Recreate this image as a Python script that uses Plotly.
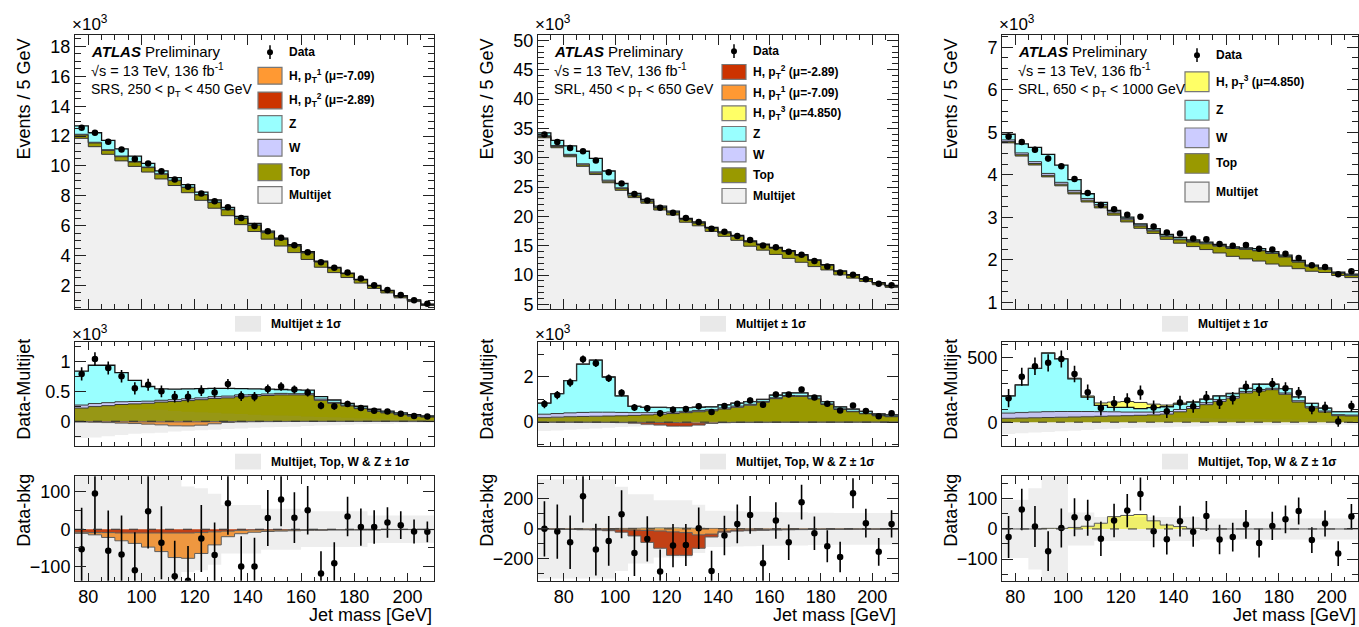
import plotly.graph_objects as go

# ======================= DATA =======================
# ---- Panel 1: SRS, 250 < pT < 450 GeV ----
srs_edges = [75, 80, 85, 90, 95, 100, 105, 110, 115, 120, 125, 130, 135, 140, 145,
             150, 155, 160, 165, 170, 175, 180, 185, 190, 195, 200, 205, 210]
srs_data_k = [12.56, 12.23, 11.62, 11.11, 10.47, 10.17, 9.64, 9.09, 8.60, 8.16, 7.63, 7.24, 6.51, 5.98,
              5.63, 5.19, 4.69, 4.22, 3.56, 3.19, 2.86, 2.46, 2.02, 1.69, 1.36, 1.01, 0.77]
srs_mj_k = [11.85, 11.29, 10.78, 10.34, 9.97, 9.59, 9.13, 8.69, 8.21, 7.70, 7.17, 6.67, 6.07, 5.61,
            5.10, 4.64, 4.20, 3.74, 3.22, 2.86, 2.53, 2.16, 1.80, 1.50, 1.17, 0.92, 0.66]
srs_top = [220, 245, 260, 280, 290, 300, 320, 330, 345, 360, 380, 390, 410, 420,
           430, 440, 440, 440, 350, 300, 255, 210, 165, 140, 110, 85, 70]
srs_w = [50, 50, 50, 45, 40, 35, 30, 30, 30, 30, 30, 30, 30, 25,
         25, 25, 20, 20, 20, 15, 15, 10, 10, 10, 10, 8, 6]
srs_z = [566, 639, 624, 485, 353, 245, 190, 175, 165, 155, 140, 130, 105, 95,
         80, 65, 65, 60, 40, 40, 30, 30, 25, 20, 20, 17, 14]
srs_h1 = [-3, -6, -13, -21, -28, -38, -50, -66, -68, -56, -35, -15, -9, -6,
          -4, -3, -3, -2, -2, -1, -1, -1, -1, -0.5, -0.5, -0.5, -0.5]
srs_h2 = [-8, -9, -9, -10, -10, -10, -10, -10, -10, -9, -7, -5, -3, -2,
          -2, -2, -1, -1, -1, -1, -1, -1, -1, -0.5, -0.5, -0.5, -0.5]
srs_dmm = [790, 1040, 890, 750, 550, 610, 500, 410, 410, 510, 480, 620, 420, 410,
           540, 580, 530, 480, 260, 250, 290, 220, 175, 164, 126, 87, 80]
srs_err = [112, 110, 108, 105, 102, 100, 98, 95, 93, 90, 87, 85, 81, 77,
           75, 72, 68, 65, 60, 56, 53, 50, 45, 41, 37, 32, 28]
srs_dmb = [-54, 96, -58, -68, -110, 48, -36, -126, -138, -25, -69, 70, -100, -100,
           30, 80, 31, 51, -119, -91, 34, 6, 6, 18, 11, -6, -7]
srs_mj_unc = [280, 270, 250, 230, 210, 200, 190, 170, 160, 150, 140, 130, 120, 110,
              100, 95, 90, 80, 70, 65, 60, 50, 45, 40, 35, 30, 30]
srs_tot_unc = [150, 150, 150, 150, 150, 150, 150, 150, 115, 110, 95, 65, 65, 65,
               55, 55, 55, 48, 48, 48, 48, 48, 37, 37, 37, 37, 37]

# ---- Panel 2: SRL, 450 < pT < 650 GeV ----
srl_edges = [70, 75, 80, 85, 90, 95, 100, 105, 110, 115, 120, 125, 130, 135, 140, 145,
             150, 155, 160, 165, 170, 175, 180, 185, 190, 195, 200, 205, 210]
srl_data_k = [33.97, 32.68, 31.67, 31.11, 29.54, 27.52, 25.62, 23.82, 22.70, 21.47, 20.63, 19.73, 19.06, 17.88,
              17.38, 16.65, 15.98, 15.02, 14.74, 13.96, 13.45, 12.39, 11.44, 10.43, 10.03, 9.30, 8.52, 8.24]
srl_mj_k = [33.4, 31.7, 30.16, 28.53, 27.13, 25.73, 24.44, 23.2, 22.25, 21.08, 20.24, 19.0, 18.39, 17.43,
            16.59, 15.92, 14.91, 14.24, 13.51, 12.84, 12.17, 11.44, 10.87, 10.03, 9.47, 8.91, 8.35, 7.9]
srl_top = [200, 220, 240, 250, 260, 270, 280, 300, 320, 350, 380, 420, 460, 500,
           580, 660, 750, 880, 1040, 1140, 1140, 1030, 780, 560, 460, 370, 280, 240]
srl_w = [150, 160, 170, 180, 180, 170, 150, 120, 100, 80, 70, 60, 60, 50,
         50, 50, 40, 40, 40, 40, 30, 30, 30, 30, 20, 20, 20, 20]
srl_z = [490, 880, 1430, 2140, 2310, 1560, 730, 280, 230, 220, 190, 160, 140, 130,
         140, 130, 120, 90, 120, 120, 130, 100, 100, 90, 100, 90, 60, 60]
srl_h1 = [-1, -1, -2, -2, -3, -4, -6, -8, -10, -14, -20, -25, -40, -35,
          -15, -8, -6, -5, -4, -3, -3, -2, -2, -2, -1, -1, -1, -1]
srl_h2 = [-1, -2, -2, -4, -5, -8, -16, -39, -80, -115, -156, -151, -89, -19,
          -7, -7, -6, -5, -4, -3, -2, -2, -1, -1, -1, -1, -1, -1]
srl_h3 = [0, 0, 0, 0, 1, 2, 3, 4, 5, 6, 6, 5, 4, 3,
          2, 1, 1, 0, 0, 0, 0, 0, 0, 0, 0, 0, 0, 0]
srl_dmm = [800, 1200, 1750, 2780, 2610, 1940, 1300, 650, 610, 390, 550, 580, 700, 450,
           710, 810, 960, 770, 1220, 1220, 1450, 1090, 810, 510, 740, 490, 260, 390]
srl_err = [184, 181, 178, 176, 172, 166, 160, 154, 151, 147, 144, 140, 138, 134,
           132, 129, 126, 123, 121, 118, 116, 111, 107, 102, 100, 96, 92, 91]
srl_dmb = [0, -18, -89, 218, -138, -80, 98, -160, -67, -284, -111, -107, 4, -280,
           -44, 33, 93, -229, 56, -89, 178, -29, -116, -187, 238, 38, -153, 33]
srl_mj_unc = [390, 370, 340, 310, 280, 250, 220, 190, 160, 140, 120, 100, 80, 70,
              60, 55, 50, 45, 40, 40, 35, 35, 30, 30, 30, 30, 30, 30]
srl_tot_unc = [330, 330, 330, 330, 330, 330, 280, 230, 230, 190, 190, 190, 160, 120,
               120, 118, 116, 114, 112, 110, 110, 108, 108, 106, 106, 105, 105, 105]

# ---- Panel 3: SRL, 650 < pT < 1000 GeV ----
hp_edges = [75, 80, 85, 90, 95, 100, 105, 110, 115, 120, 125, 130, 135, 140, 145,
            150, 155, 160, 165, 170, 175, 180, 185, 190, 195, 200, 205, 210]
hp_data_k = [4.90, 4.77, 4.59, 4.38, 4.20, 3.90, 3.57, 3.29, 3.19, 3.06, 3.01, 2.78, 2.64, 2.62,
             2.50, 2.48, 2.37, 2.33, 2.35, 2.26, 2.24, 2.14, 2.04, 1.87, 1.83, 1.66, 1.73]
hp_mj_k = [4.75, 4.44, 4.23, 3.95, 3.74, 3.55, 3.36, 3.22, 3.05, 2.89, 2.74, 2.62, 2.48, 2.39,
           2.31, 2.24, 2.16, 2.08, 2.02, 1.97, 1.90, 1.85, 1.79, 1.73, 1.70, 1.63, 1.58]
hp_top = [30, 32, 34, 36, 38, 40, 42, 45, 48, 50, 53, 56, 62, 80,
          105, 135, 160, 185, 225, 240, 250, 215, 155, 110, 78, 50, 48]
hp_w = [40, 42, 44, 45, 44, 42, 40, 36, 32, 28, 25, 22, 20, 18,
        16, 15, 14, 13, 12, 12, 11, 10, 10, 9, 8, 8, 7]
hp_z = [133, 213, 336, 451, 406, 252, 111, 48, 34, 36, 26, 34, 37, 41,
        34, 27, 29, 23, 24, 40, 31, 34, 30, 26, 23, 23, 26]
hp_h3 = [0, 0, 0, 2, 2, 5, 9, 19, 41, 45, 48, 27, 13, 8,
         2, 0, 0, 0, 0, 0, 0, 0, 0, 0, 0, 0, 0]
hp_dmm = [185, 350, 431, 457, 487, 371, 231, 109, 145, 168, 228, 114, 84, 152,
          122, 190, 150, 185, 272, 249, 294, 261, 226, 104, 114, 5, 124]
hp_err = [70, 69, 68, 66, 65, 63, 60, 57, 56, 55, 55, 53, 51, 51,
          50, 50, 49, 48, 48, 48, 47, 46, 45, 43, 43, 41, 42]
hp_dmb = [-27, 65, 8, -74, 3, 39, 37, -33, 28, 61, 116, -8, -34, 26,
          -9, 43, -35, -27, 15, -47, 10, 32, 60, -37, 18, -82, 41]
hp_mj_unc = [90, 85, 80, 75, 70, 65, 60, 55, 50, 45, 42, 40, 38, 35,
             33, 30, 28, 27, 25, 24, 23, 22, 21, 20, 20, 20, 20]
hp_tot_unc = [97, 97, 135, 180, 180, 55, 55, 40, 40, 40, 40, 40, 40, 40,
              40, 35, 35, 35, 35, 35, 35, 35, 35, 35, 35, 35, 35]

# text
x_title = "Jet mass [GeV]"
region_labels = ["SRS, 250 &lt; p<sub>T</sub> &lt; 450 GeV",
                 "SRL, 450 &lt; p<sub>T</sub> &lt; 650 GeV",
                 "SRL, 650 &lt; p<sub>T</sub> &lt; 1000 GeV"]

# ======================= STYLE =======================
W_PX, H_PX = 1359, 627
FONT = "Liberation Sans, Arial, Helvetica, sans-serif"
C_MJ = "#f0f0f0"
C_TOP = "#999900"
C_W = "#ccccff"
C_Z = "#99ffff"
C_H1 = "#ff9933"
C_H2 = "#cc3300"
C_H3 = "#ffff66"
LINE = "#333333"
BAND = "rgba(140,140,140,0.15)"
AX = "#222222"

H1_LBL = "H, p<sub>T</sub><sup>1</sup> (μ=-7.09)"
H2_LBL = "H, p<sub>T</sub><sup>2</sup> (μ=-2.89)"
H3_LBL = "H, p<sub>T</sub><sup>3</sup> (μ=4.850)"

cols_px = [(75, 434), (538, 898), (1002, 1358)]
rows_px = [(31, 310), (343, 449), (480, 586)]

panels = [
    dict(edges=srs_edges, data_k=srs_data_k, mj_k=srs_mj_k, top=srs_top, w=srs_w, z=srs_z,
         hpos=[], hneg=[(srs_h2, C_H2), (srs_h1, C_H1)],
         dmm=srs_dmm, err=srs_err, dmb=srs_dmb, mj_unc=srs_mj_unc, tot_unc=srs_tot_unc, s=0.001,
         yr=[[0.42, 18.8], [-0.41, 1.33], [-138, 142]],
         dt=[(2, 0.5), (0.5, 0.25), (100, 50)],
         leg=[("data", "Data"), (C_H1, H1_LBL), (C_H2, H2_LBL), (C_Z, "Z"), (C_W, "W"),
              (C_TOP, "Top"), (C_MJ, "Multijet")],
         leg_y=[49, 73, 98, 122, 146, 171, 194], leg_x=258, box_h=17, mid_k=True),
    dict(edges=srl_edges, data_k=srl_data_k, mj_k=srl_mj_k, top=srl_top, w=srl_w, z=srl_z,
         hpos=[(srl_h3, C_H3)], hneg=[(srl_h1, C_H1), (srl_h2, C_H2)],
         dmm=srl_dmm, err=srl_err, dmb=srl_dmb, mj_unc=srl_mj_unc, tot_unc=srl_tot_unc, s=0.001,
         yr=[[4.2, 51], [-1.05, 3.57], [-345, 350]],
         dt=[(5, 1), (2, 1), (200, 100)],
         leg=[("data", "Data"), (C_H2, H2_LBL), (C_H1, H1_LBL), (C_H3, H3_LBL), (C_Z, "Z"),
              (C_W, "W"), (C_TOP, "Top"), (C_MJ, "Multijet")],
         leg_y=[48, 69, 90, 111, 132, 153, 174, 195], leg_x=722, box_h=15, mid_k=True),
    dict(edges=hp_edges, data_k=hp_data_k, mj_k=hp_mj_k, top=hp_top, w=hp_w, z=hp_z,
         hpos=[(hp_h3, C_H3)], hneg=[],
         dmm=hp_dmm, err=hp_err, dmb=hp_dmb, mj_unc=hp_mj_unc, tot_unc=hp_tot_unc, s=1,
         yr=[[0.84, 7.3], [-182, 621], [-172, 175]],
         dt=[(1, 0.25), (500, 100), (100, 50)],
         leg=[("data", "Data"), (C_H3, H3_LBL), (C_Z, "Z"), (C_W, "W"), (C_TOP, "Top"),
              (C_MJ, "Multijet")],
         leg_y=[52, 79, 108, 136, 162, 191], leg_x=1185, box_h=20, mid_k=False),
]


def px(x):
    return x / W_PX


def py(y):
    return 1 - y / H_PX


def sy(v):
    return list(v) + [v[-1]]


def sc(v, s):
    return [a * s for a in v]


fig = go.Figure()
shapes = []
annotations = []
layout_axes = {}


def ann(text, x, y, size=15, xanchor="left", yanchor="middle", angle=0, color="black"):
    annotations.append(dict(text=text, x=px(x), y=py(y), xref="paper", yref="paper",
                            xanchor=xanchor, yanchor=yanchor, showarrow=False, textangle=angle,
                            font=dict(family=FONT, size=size, color=color)))


for c, P in enumerate(panels):
    edges = P["edges"]
    centers = [(a + b) / 2 for a, b in zip(edges[:-1], edges[1:])]
    for r in range(3):
        n = 3 * c + r + 1
        xn = "x" if n == 1 else f"x{n}"
        yn = "y" if n == 1 else f"y{n}"
        xk = "xaxis" if n == 1 else f"xaxis{n}"
        yk = "yaxis" if n == 1 else f"yaxis{n}"
        big, small = P["dt"][r]
        tl = 10 if r == 0 else 8
        layout_axes[xk] = dict(
            domain=[px(cols_px[c][0]), px(cols_px[c][1])], range=[edges[0], edges[-1]],
            anchor=yn, showline=True, linecolor=AX, linewidth=1, mirror="allticks",
            ticks="inside", ticklen=tl, tickcolor=AX, tickwidth=1, dtick=20, tick0=0,
            minor=dict(dtick=5, tick0=0, ticklen=tl // 2, ticks="inside", tickcolor=AX, showgrid=False),
            showgrid=False, zeroline=False, showticklabels=(r == 2),
            tickfont=dict(family=FONT, size=18, color="black"))
        layout_axes[yk] = dict(
            domain=[py(rows_px[r][1]), py(rows_px[r][0])], range=P["yr"][r],
            anchor=xn, showline=True, linecolor=AX, linewidth=1, mirror="allticks",
            ticks="inside", ticklen=11, tickcolor=AX, tickwidth=1, dtick=big, tick0=0,
            minor=dict(dtick=small, tick0=0, ticklen=6, ticks="inside", tickcolor=AX, showgrid=False),
            showgrid=False, zeroline=False,
            tickfont=dict(family=FONT, size=18, color="black"))

        def step(vals, color, group, lw=1, lc=LINE):
            fig.add_trace(go.Scatter(x=edges, y=sy(vals), mode="lines",
                                     line=dict(shape="hv", color=lc, width=lw),
                                     fillcolor=color, stackgroup=group, xaxis=xn, yaxis=yn,
                                     showlegend=False, hoverinfo="skip"))

        def band(unc):
            fig.add_trace(go.Scatter(x=edges, y=sy(unc), mode="lines",
                                     line=dict(shape="hv", width=0, color="rgba(0,0,0,0)"),
                                     xaxis=xn, yaxis=yn, showlegend=False, hoverinfo="skip"))
            fig.add_trace(go.Scatter(x=edges, y=sy([-u for u in unc]), mode="lines",
                                     line=dict(shape="hv", width=0, color="rgba(0,0,0,0)"),
                                     fill="tonexty", fillcolor=BAND,
                                     xaxis=xn, yaxis=yn, showlegend=False, hoverinfo="skip"))

        def points(y, e):
            fig.add_trace(go.Scatter(x=centers, y=y, mode="markers",
                                     marker=dict(color="black", size=6.5),
                                     error_y=dict(type="data", array=e, color="black",
                                                  thickness=1.6, width=0),
                                     xaxis=xn, yaxis=yn, showlegend=False, hoverinfo="skip"))

        def zero_line():
            shapes.append(dict(type="line", xref=f"{xn} domain", yref=yn, x0=0, x1=1, y0=0, y1=0,
                               line=dict(color="#333", width=1, dash="dash"), layer="above"))

        if r == 0:
            g = f"top{c}"
            step(P["mj_k"], C_MJ, g)
            step(sc(P["top"], 0.001), C_TOP, g)
            step(sc(P["w"], 0.001), C_W, g)
            step(sc(P["z"], 0.001), C_Z, g, lw=1.3, lc="#111")
            points(P["data_k"], sc(P["err"], 0.001))
        elif r == 1:
            s = P["s"]
            g = f"mid{c}"
            step(sc(P["top"], s), C_TOP, g)
            step(sc(P["w"], s), C_W, g)
            step(sc(P["z"], s), C_Z, g, lw=1.3, lc="#111")
            for vals, col in P["hpos"]:
                step(sc(vals, s), col, g)
            for vals, col in P["hneg"]:
                step(sc(vals, s), col, f"midneg{c}", lc="#555")
            band(sc(P["mj_unc"], s))
            zero_line()
            points(sc(P["dmm"], s), sc(P["err"], s))
        else:
            for vals, col in P["hpos"]:
                step(vals, col, f"botpos{c}", lc="#555")
            for vals, col in P["hneg"]:
                step(vals, col, f"botneg{c}", lc="#555")
            band(P["tot_unc"])
            zero_line()
            points(P["dmb"], P["err"])

    # ---------- texts ----------
    x0, x1 = cols_px[c]
    tx = x0 + 14
    ann("<b><i>ATLAS</i></b> Preliminary", tx, 48, size=15)
    ann("√s = 13 TeV, 136 fb<sup>-1</sup>", tx, 67, size=14.5)
    ann(region_labels[c], tx, 87, size=14)
    ann("×10<sup>3</sup>", x0 - 5, 19, size=17, xanchor="left")
    if P["mid_k"]:
        ann("×10<sup>3</sup>", x0 - 5, 334, size=17, xanchor="left")
    ytx = x0 - 51
    ann("Events / 5 GeV", ytx, 97, size=18, xanchor="center", angle=-90)
    ann("Data-Multijet", ytx, 392, size=18, xanchor="center", angle=-90)
    ann("Data-bkg", ytx, 515, size=18, xanchor="center", angle=-90)
    ann(x_title, x1, 621, size=18, xanchor="right")

    # ---------- legend ----------
    lx = P["leg_x"]
    bh = P["box_h"]
    for (col, lbl), ly in zip(P["leg"], P["leg_y"]):
        if col == "data":
            mx = lx + 12
            shapes.append(dict(type="line", xref="paper", yref="paper", x0=px(mx), x1=px(mx),
                               y0=py(ly - 7), y1=py(ly + 7), line=dict(color="black", width=1.5)))
            shapes.append(dict(type="circle", xref="paper", yref="paper", x0=px(mx - 3), x1=px(mx + 3),
                               y0=py(ly + 3), y1=py(ly - 3), fillcolor="black", line=dict(width=0)))
        else:
            shapes.append(dict(type="rect", xref="paper", yref="paper", x0=px(lx), x1=px(lx + 24),
                               y0=py(ly + bh / 2), y1=py(ly - bh / 2), fillcolor=col,
                               line=dict(color="#777", width=1.2)))
        ann(f"<b>{lbl}</b>", lx + 29, ly, size=12)

    # uncertainty legends
    bx = [235, 700, 1162][c]
    for ly, lbl in [(325, "Multijet ± 1σ"), (465, "Multijet, Top, W &amp; Z ± 1σ")]:
        shapes.append(dict(type="rect", xref="paper", yref="paper", x0=px(bx), x1=px(bx + 26),
                           y0=py(ly + 8), y1=py(ly - 8), fillcolor="rgba(200,200,200,0.4)",
                           line=dict(width=0)))
        ann(f"<b>{lbl}</b>", bx + 34, ly, size=12)

fig.update_layout(
    width=W_PX, height=H_PX, margin=dict(l=0, r=0, t=0, b=0),
    paper_bgcolor="white", plot_bgcolor="white", showlegend=False,
    shapes=shapes, annotations=annotations, **layout_axes)

fig.write_html("out.html")
